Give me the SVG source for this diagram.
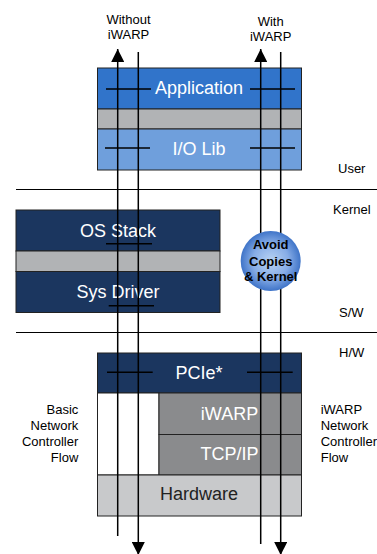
<svg xmlns="http://www.w3.org/2000/svg" width="377" height="554" viewBox="0 0 377 554">
<style>
text{font-family:"Liberation Sans",Arial,sans-serif}
.lbl{font-size:13px;fill:#000}
.box{stroke:#222;stroke-width:1}
.bt{font-size:18px;fill:#fff;text-anchor:middle}
.flow{stroke:#000;stroke-width:1.5;fill:none}
.tick{stroke:#000;stroke-width:1.5}
.sep{stroke:#000;stroke-width:1.2}
.ct{font-size:13px;font-weight:bold;fill:#000;text-anchor:middle}
</style>
<defs>
<radialGradient id="sph" cx="0.5" cy="0.5" r="0.5">
<stop offset="0" stop-color="#b9d3f3"/>
<stop offset="0.6" stop-color="#86ace6"/>
<stop offset="1" stop-color="#3f74c8"/>
</radialGradient>
<marker id="ah" viewBox="0 0 10 10" refX="10" refY="5" markerWidth="13" markerHeight="13" markerUnits="userSpaceOnUse" orient="auto">
<path d="M0,0 L10,5 L0,10 z" fill="#000"/>
</marker>
</defs>
<g id="separators">
<line class="sep" x1="16" y1="189.5" x2="377" y2="189.5"/>
<line class="sep" x1="16" y1="332.5" x2="377" y2="332.5"/>
</g>
<g id="layer-labels">
<text class="lbl" x="338" y="173">User</text>
<text class="lbl" x="333" y="214">Kernel</text>
<text class="lbl" x="339" y="317">S/W</text>
<text class="lbl" x="339" y="357">H/W</text>
</g>
<g id="application">
<rect class="box" x="97.5" y="68" width="204" height="41" fill="#3174ca"/>
<text class="bt" x="199" y="94">Application</text>
</g>
<g id="app-gap"><rect class="box" x="97.5" y="109" width="204" height="20" fill="#b1b3b5"/></g>
<g id="iolib">
<rect class="box" x="97.5" y="129" width="204" height="41" fill="#6f9fdc"/>
<text class="bt" x="199" y="155">I/O Lib</text>
</g>
<g id="osstack">
<rect class="box" x="16" y="210" width="204" height="41" fill="#1b365f"/>
<text class="bt" x="118" y="237">OS Stack</text>
</g>
<g id="os-gap"><rect class="box" x="16" y="251" width="204" height="20.5" fill="#b1b3b5"/></g>
<g id="sysdriver">
<rect class="box" x="16" y="271.5" width="204" height="41" fill="#1b365f"/>
<text class="bt" x="118" y="298">Sys Driver</text>
</g>
<g id="pcie">
<rect class="box" x="97.5" y="353" width="204" height="40" fill="#1b365f"/>
<text class="bt" x="199" y="379">PCIe*</text>
</g>
<g id="blank"><rect x="97.5" y="393" width="61.5" height="82" fill="#fff" stroke="#222" stroke-width="1"/></g>
<g id="iwarp">
<rect class="box" x="159" y="393" width="142.5" height="41.5" fill="#8a8b8d"/>
<text class="bt" x="229.5" y="420" fill="#f0f0f0">iWARP</text>
</g>
<g id="tcpip">
<rect class="box" x="159" y="434.5" width="142.5" height="40.5" fill="#8a8b8d"/>
<text class="bt" x="229.5" y="460" fill="#f0f0f0">TCP/IP</text>
</g>
<g id="hardware">
<rect class="box" x="97.5" y="475" width="204" height="41" fill="#c8c9cb"/>
<text class="bt" x="199" y="500" style="fill:#222">Hardware</text>
</g>
<g id="connectors">
<line class="flow" x1="117.7" y1="536" x2="117.7" y2="49" marker-end="url(#ah)"/>
<line class="flow" x1="138.3" y1="52" x2="138.3" y2="555" marker-end="url(#ah)"/>
<line class="flow" x1="260.7" y1="544" x2="260.7" y2="49" marker-end="url(#ah)"/>
<line class="flow" x1="280.7" y1="52" x2="280.7" y2="555" marker-end="url(#ah)"/>
<line class="tick" x1="106" y1="89" x2="151" y2="89"/>
<line class="tick" x1="250" y1="89" x2="295" y2="89"/>
<line class="tick" x1="105" y1="148" x2="150" y2="148"/>
<line class="tick" x1="250" y1="148" x2="295" y2="148"/>
<line class="tick" x1="106" y1="243.7" x2="152" y2="243.7"/>
<line class="tick" x1="108.7" y1="305.7" x2="154" y2="305.7"/>
<line class="tick" x1="107" y1="372.3" x2="152.7" y2="372.3"/>
<line class="tick" x1="247" y1="372.3" x2="292.7" y2="372.3"/>
</g>
<g id="flow-labels">
<text class="lbl" x="128.5" y="24" text-anchor="middle">Without</text>
<text class="lbl" x="128.5" y="39" text-anchor="middle">iWARP</text>
<text class="lbl" x="270.7" y="26" text-anchor="middle">With</text>
<text class="lbl" x="270.7" y="41" text-anchor="middle">iWARP</text>
</g>
<g id="avoid">
<circle cx="270.7" cy="261" r="30" fill="url(#sph)"/>
<text class="ct" x="270.7" y="249">Avoid</text>
<text class="ct" x="270.7" y="265.5">Copies</text>
<text class="ct" x="270.7" y="281">&amp; Kernel</text>
</g>
<g id="basic-label">
<text class="lbl" x="78.3" y="414" text-anchor="end">Basic</text>
<text class="lbl" x="78.3" y="430" text-anchor="end">Network</text>
<text class="lbl" x="78.3" y="446" text-anchor="end">Controller</text>
<text class="lbl" x="78.3" y="462" text-anchor="end">Flow</text>
</g>
<g id="iwarp-label">
<text class="lbl" x="320.7" y="414">iWARP</text>
<text class="lbl" x="320.7" y="430">Network</text>
<text class="lbl" x="320.7" y="446">Controller</text>
<text class="lbl" x="320.7" y="462">Flow</text>
</g>
</svg>
